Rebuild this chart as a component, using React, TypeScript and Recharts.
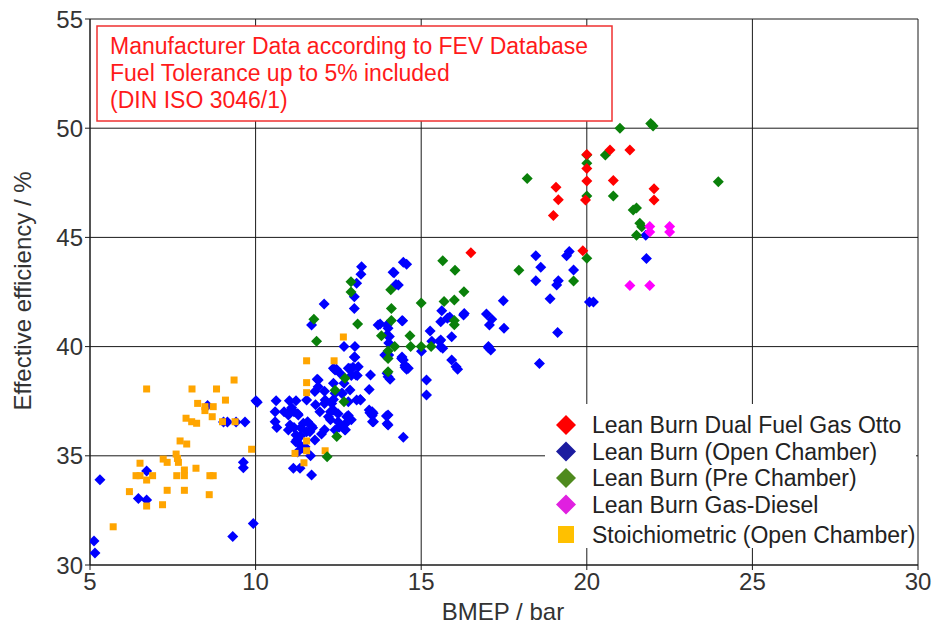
import { ScatterChart, Scatter, XAxis, YAxis, CartesianGrid } from "recharts";

// BMEP [bar], effective efficiency [%]
const dualFuelGasOtto = [
  [16.5, 44.3], [19.07, 47.3], [19.14, 46.72], [18.99, 46.0], [20.0, 48.8], [20.0, 48.16],
  [20.0, 47.58], [19.96, 46.71], [19.88, 44.39], [20.7, 49.0], [21.3, 49.0], [20.8, 47.6],
  [22.03, 47.23], [22.03, 46.71],
];

const openChamber = [
  [5.3, 33.9], [5.12, 31.1], [5.15, 30.55], [6.71, 34.3], [6.46, 33.05], [6.71, 32.98],
  [9.31, 31.3], [9.93, 31.9], [9.63, 34.7], [9.63, 34.45], [8.55, 37.3], [9.03, 36.55],
  [9.15, 36.55], [9.41, 36.55], [9.68, 36.55],
  [10.01, 37.52], [10.05, 37.45], [10.62, 37.52], [11.02, 37.52], [11.22, 37.52], [11.54, 37.55],
  [10.59, 37.02], [10.86, 37.02], [10.99, 36.87], [11.16, 37.02], [11.29, 36.87], [10.59, 36.56],
  [10.64, 36.3], [11.04, 36.41], [11.16, 36.3], [10.99, 36.18], [11.22, 35.95], [11.44, 36.49],
  [11.69, 36.36], [11.64, 36.1], [11.94, 37.02], [11.89, 38.47], [11.89, 38.16], [11.79, 37.94],
  [12.1, 37.55], [12.4, 37.86], [12.35, 39.01], [12.3, 37.4], [12.2, 36.79], [11.24, 35.72],
  [11.29, 35.57], [11.49, 35.42], [11.79, 35.72], [11.14, 34.43], [11.34, 34.43], [11.69, 34.12],
  [12.4, 36.18], [12.35, 37.1], [11.27, 35.17], [11.43, 35.36], [11.66, 35.0], [11.99, 36.0],
  [12.08, 36.19], [10.98, 36.98], [11.09, 37.2], [11.27, 36.93], [11.36, 36.28], [11.36, 35.91],
  [11.21, 35.64], [11.57, 36.56], [11.54, 36.1], [11.72, 36.28], [11.81, 37.34], [12.08, 37.95],
  [12.08, 37.39], [12.26, 37.02], [12.26, 36.65], [12.35, 37.58], [12.49, 36.93], [12.62, 37.85],
  [12.71, 36.19], [12.07, 41.95], [11.69, 40.99], [12.67, 40.0], [13.0, 40.0], [13.0, 39.51],
  [12.85, 39.0], [12.4, 38.93], [11.86, 38.5],
  [13.47, 38.7], [13.43, 38.04], [13.95, 36.82], [14.0, 36.41], [13.53, 36.56], [13.45, 36.97],
  [14.46, 35.85], [13.76, 41.03], [14.0, 40.84], [14.04, 40.46], [14.44, 41.18], [14.51, 39.05],
  [14.46, 39.39], [14.18, 43.38], [14.31, 42.82], [14.46, 43.86], [14.56, 43.77], [13.2, 43.66],
  [13.18, 43.31], [12.98, 42.28], [12.98, 41.75], [13.05, 42.9], [13.1, 39.08], [13.03, 38.7],
  [12.8, 39.01], [13.9, 39.62], [14.41, 39.46], [14.0, 38.62], [14.61, 39.01], [15.16, 38.47],
  [15.16, 37.78], [13.05, 37.55], [13.17, 37.55], [13.43, 37.1], [13.55, 36.95], [14.0, 36.87],
  [12.7, 36.18], [12.75, 36.79], [12.6, 37.86], [12.85, 38.01], [12.35, 38.32], [12.55, 38.78],
  [12.44, 38.96], [12.67, 38.32], [12.49, 36.56], [12.53, 36.32], [12.71, 36.47], [12.8, 36.84],
  [12.89, 36.65], [12.8, 37.48], [12.89, 38.68], [12.94, 39.05], [12.98, 39.52], [13.07, 38.68],
  [13.16, 37.58], [13.52, 37.02], [13.56, 36.56], [13.52, 36.84], [13.97, 36.47], [14.42, 41.18],
  [14.02, 39.61], [14.02, 40.16], [13.97, 40.53], [13.97, 40.99], [13.7, 40.99], [14.06, 38.5],
  [13.97, 38.78], [14.24, 42.84], [14.15, 43.4], [14.42, 39.52], [14.51, 39.15], [14.56, 38.96],
  [15.01, 39.79], [15.27, 40.72], [15.32, 40.25], [15.55, 40.25], [15.59, 39.98], [15.65, 39.92],
  [15.62, 41.64], [15.79, 41.3], [15.59, 41.14], [15.92, 40.45], [15.86, 41.36], [15.92, 39.39],
  [16.05, 39.08], [16.1, 38.96], [16.28, 41.45], [16.3, 41.52], [15.59, 40.3], [17.48, 42.1],
  [16.97, 41.49], [17.13, 41.25], [17.06, 40.99], [17.5, 40.84], [17.03, 40.0], [17.1, 39.84],
  [17.03, 39.95], [18.46, 44.16], [18.61, 43.63], [18.46, 43.02], [18.89, 42.19], [19.14, 43.02],
  [19.09, 42.82], [19.6, 43.51], [19.39, 44.16], [19.47, 44.35], [19.12, 40.64], [18.57, 39.23],
  [20.08, 42.04], [20.2, 42.04], [21.8, 44.03], [21.78, 45.1],
];

const preChamber = [
  [12.16, 34.96], [12.45, 35.88], [12.67, 37.48], [12.4, 38.0], [12.7, 38.55], [11.84, 40.25],
  [11.76, 41.25], [12.88, 42.5], [12.88, 42.97], [13.08, 41.03], [13.8, 40.5], [14.0, 38.85],
  [14.0, 39.46], [14.0, 39.8], [14.1, 41.2], [14.1, 41.75], [14.08, 42.6], [14.2, 40.0],
  [14.66, 40.5], [14.68, 40.0], [15.0, 40.0], [15.0, 42.0], [15.3, 40.0], [15.65, 43.93],
  [16.02, 43.5], [16.29, 42.51], [15.69, 42.06], [16.0, 42.13], [16.0, 41.2], [16.0, 41.0],
  [17.95, 43.5], [18.2, 47.7], [19.6, 43.0], [20.0, 44.04], [20.0, 46.9], [20.0, 48.4],
  [20.0, 48.77], [20.56, 48.77], [20.8, 46.9], [21.0, 50.0], [21.93, 50.22], [22.0, 50.1],
  [21.4, 46.25], [21.5, 46.35], [21.6, 45.65], [21.66, 45.49], [21.5, 45.1], [23.97, 47.55],
];

const gasDiesel = [
  [21.9, 45.5], [21.9, 45.25], [22.5, 45.5], [22.5, 45.25], [21.3, 42.8], [21.9, 42.8],
];

const stoichiometric = [
  [5.7, 31.75], [6.19, 33.36], [6.39, 34.09], [6.51, 34.09], [6.51, 34.66], [6.71, 33.89],
  [6.89, 34.09], [6.71, 32.7], [6.71, 38.06], [7.19, 32.76], [7.21, 34.85], [7.33, 34.7],
  [7.33, 33.42], [7.6, 35.08], [7.64, 34.88], [7.67, 34.7], [7.62, 34.09], [7.72, 35.68],
  [7.92, 35.54], [7.85, 34.09], [7.85, 34.35], [7.85, 33.42], [7.9, 36.72], [8.07, 36.56],
  [8.22, 36.49], [8.08, 38.06], [8.25, 37.4], [8.47, 37.25], [8.47, 37.07], [8.72, 37.25],
  [8.69, 36.79], [8.2, 34.43], [8.6, 33.22], [8.62, 34.09], [8.72, 34.09], [8.82, 38.06],
  [9.09, 37.55], [9.35, 38.47], [9.0, 36.56], [9.38, 36.56], [9.88, 35.3], [11.19, 35.11],
  [11.46, 34.68], [11.54, 35.23], [11.54, 35.68], [11.54, 37.89], [11.54, 38.35], [11.54, 39.35],
  [12.1, 35.23], [12.37, 39.35], [12.65, 40.44],
];

const xTicks = [5, 10, 15, 20, 25, 30];
const yTicks = [30, 35, 40, 45, 50, 55];
const xMinorTicks = [7.5, 12.5, 17.5, 22.5, 27.5];
const yMinorTicks = [32.5, 37.5, 42.5, 47.5, 52.5];

const noteLines = [
  "Manufacturer Data according to FEV Database",
  "Fuel Tolerance up to 5% included",
  "(DIN ISO 3046/1)",
];

const legendLabels = [
  "Lean Burn Dual Fuel Gas Otto",
  "Lean Burn (Open Chamber)",
  "Lean Burn (Pre Chamber)",
  "Lean Burn Gas-Diesel",
  "Stoichiometric (Open Chamber)",
];
const legendColors = ["#ff0000", "#1c1ca0", "#4f8a1e", "#e020e0", "#ffc000"];

const toPoints = (arr: number[][]) => arr.map(([x, y]) => ({ x, y }));

const Diamond = (props: any) => {
  const { cx, cy, fill } = props;
  const r = 5.5;
  return (
    <polygon
      points={`${cx},${cy - r} ${cx + r},${cy} ${cx},${cy + r} ${cx - r},${cy}`}
      fill={fill}
    />
  );
};

const Square = (props: any) => {
  const { cx, cy, fill } = props;
  return <rect x={cx - 3.5} y={cy - 3.5} width={7} height={7} fill={fill} />;
};

const tickStyle = { fill: "#333", fontSize: 24 };

export default function App() {
  return (
    <div
      style={{
        position: "absolute",
        left: 0,
        top: 0,
        width: 934,
        height: 632,
        background: "#fff",
        fontFamily: "'Liberation Sans', Arial, sans-serif",
      }}
    >
      <ScatterChart
        width={934}
        height={632}
        margin={{ top: 19, right: 16, bottom: 27, left: 30 }}
      >
        <CartesianGrid stroke="#1a1a1a" strokeWidth={1} />
        <XAxis
          xAxisId="minor"
          type="number"
          dataKey="x"
          domain={[5, 30]}
          ticks={xMinorTicks}
          allowDataOverflow
          tick={false}
          axisLine={false}
          tickSize={5}
          mirror
          height={0}
          stroke="#1a1a1a"
        />
        <XAxis
          type="number"
          dataKey="x"
          domain={[5, 30]}
          ticks={xTicks}
          allowDataOverflow
          tickSize={5}
          tickMargin={3}
          height={40}
          stroke="#1a1a1a"
          tick={tickStyle}
        />
        <YAxis
          yAxisId="minor"
          type="number"
          dataKey="y"
          domain={[30, 55]}
          ticks={yMinorTicks}
          allowDataOverflow
          tick={false}
          axisLine={false}
          tickSize={5}
          mirror
          width={0}
          stroke="#1a1a1a"
        />
        <YAxis
          type="number"
          dataKey="y"
          domain={[30, 55]}
          ticks={yTicks}
          allowDataOverflow
          tickSize={5}
          tickMargin={2}
          width={60}
          stroke="#1a1a1a"
          tick={tickStyle}
        />

        <Scatter data={toPoints(openChamber)} fill="#0000ff" shape={Diamond} isAnimationActive={false} />
        <Scatter data={toPoints(stoichiometric)} fill="#ffa500" shape={Square} isAnimationActive={false} />
        <Scatter data={toPoints(preChamber)} fill="#0a800a" shape={Diamond} isAnimationActive={false} />
        <Scatter data={toPoints(dualFuelGasOtto)} fill="#ff0000" shape={Diamond} isAnimationActive={false} />
        <Scatter data={toPoints(gasDiesel)} fill="#ff00ff" shape={Diamond} isAnimationActive={false} />
      </ScatterChart>

      <svg
        width={934}
        height={632}
        style={{ position: "absolute", left: 0, top: 0, pointerEvents: "none" }}
      >
        {/* note box */}
        <rect x={97} y={26} width={515} height={95} fill="#fff" stroke="#f03030" strokeWidth={1.5} />
        {noteLines.map((line, i) => (
          <text key={i} x={110} y={54 + i * 27} fill="#ff1a1a" fontSize={23}>
            {line}
          </text>
        ))}

        {/* legend */}
        <rect x={545} y={404} width={371} height={144} fill="#fff" />
        {legendLabels.map((label, i) => {
          const cy = i < 4 ? 425 + i * 26.5 : 535;
          const color = legendColors[i];
          return (
            <g key={label}>
              {i < 4 ? (
                <polygon
                  points={`566,${cy - 10} 576,${cy} 566,${cy + 10} 556,${cy}`}
                  fill={color}
                />
              ) : (
                <rect x={558} y={cy - 9} width={16} height={17} fill={color} />
              )}
              <text x={592} y={cy} dy="0.36em" fill="#222" fontSize={23}>
                {label}
              </text>
            </g>
          );
        })}

        {/* axis titles */}
        <text x={503} y={620} textAnchor="middle" fill="#333" fontSize={24}>
          BMEP / bar
        </text>
        <text
          x={0}
          y={0}
          transform="translate(22,291) rotate(-90)"
          textAnchor="middle"
          dy="0.36em"
          fill="#333"
          fontSize={24}
        >
          Effective efficiency / %
        </text>
      </svg>
    </div>
  );
}
